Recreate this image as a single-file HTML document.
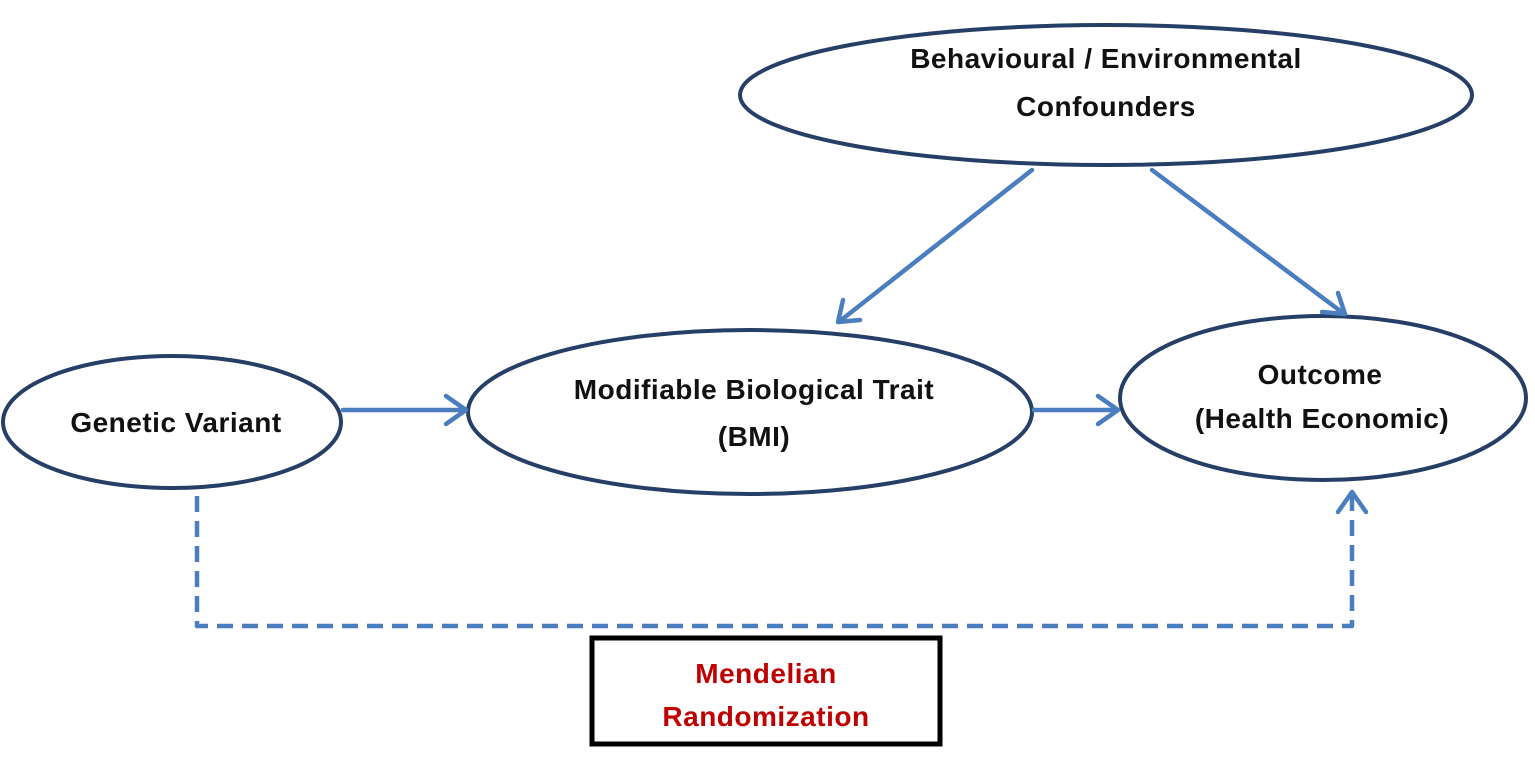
<!DOCTYPE html>
<html><head><meta charset="utf-8"><style>
html,body{margin:0;padding:0;background:#fff;}
svg{display:block}
text{font-family:"Liberation Sans",sans-serif;font-weight:bold;font-size:28px;fill:#111;text-anchor:middle;letter-spacing:0.5px}
</style></head><body>
<svg width="1535" height="757" viewBox="0 0 1535 757">
<g fill="#fff" stroke="#253f66" stroke-width="4">
<ellipse cx="1106" cy="95" rx="366" ry="70"/>
<ellipse cx="172" cy="422" rx="169" ry="66"/>
<ellipse cx="750" cy="412" rx="282" ry="82"/>
<ellipse cx="1323" cy="398" rx="203" ry="82"/>
</g>
<g stroke="#4a7ebf" stroke-width="4.5" fill="none" stroke-linecap="round" stroke-linejoin="round">
<line x1="343" y1="410" x2="464" y2="410"/>
<polyline points="446,396 466,410 446,424"/>
<line x1="1034" y1="410" x2="1116" y2="410"/>
<polyline points="1098,396 1118,410 1098,424"/>
<line x1="1032" y1="170" x2="840" y2="321"/>
<polyline points="843,300 838,322 860,320"/>
<line x1="1152" y1="170" x2="1343" y2="313"/>
<polyline points="1322,312 1345,314 1338,293"/>
<polyline points="197,496 197,626 1352,626 1352,496" stroke-dasharray="16,9" stroke-linecap="butt"/>
<polyline points="1338,512 1352,492 1366,512"/>
</g>
<rect x="592" y="638" width="348" height="106" fill="#fff" stroke="#000" stroke-width="5"/>
<text x="1106" y="68">Behavioural / Environmental</text>
<text x="1106" y="116">Confounders</text>
<text x="176" y="432">Genetic Variant</text>
<text x="754" y="399">Modifiable Biological Trait</text>
<text x="754" y="446">(BMI)</text>
<text x="1320" y="384">Outcome</text>
<text x="1322" y="428">(Health Economic)</text>
<text x="766" y="683" style="fill:#c00000">Mendelian</text>
<text x="766" y="726" style="fill:#c00000">Randomization</text>
</svg>
</body></html>
